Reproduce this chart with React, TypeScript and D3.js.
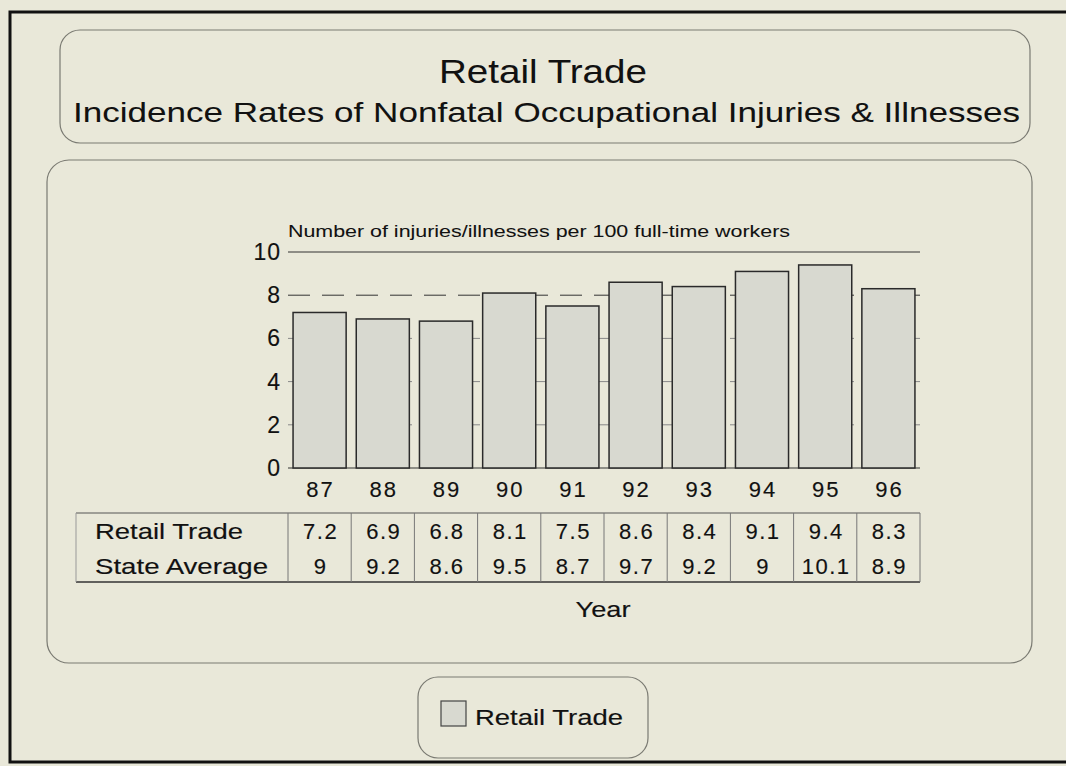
import React from 'react';
import * as d3 from 'd3';

const years = ['87', '88', '89', '90', '91', '92', '93', '94', '95', '96'];
const retailTrade = [7.2, 6.9, 6.8, 8.1, 7.5, 8.6, 8.4, 9.1, 9.4, 8.3];
const stateAverage = ['9', '9.2', '8.6', '9.5', '8.7', '9.7', '9.2', '9', '10.1', '8.9'];
const retailLabels = ['7.2', '6.9', '6.8', '8.1', '7.5', '8.6', '8.4', '9.1', '9.4', '8.3'];
const yTicks = [0, 2, 4, 6, 8, 10];

const W = 1066;
const H = 766;
const bg = '#e9e8d9';
const boxStroke = '#7a7a72';
const font = 'Liberation Sans, Arial, Helvetica, sans-serif';
const ink = '#111';

export default function App() {
  const x = d3.scaleBand<string>()
    .domain(years)
    .range([288, 920])
    .paddingInner(0.16)
    .paddingOuter(0.08);

  const y = d3.scaleLinear().domain([0, 10]).range([468, 252]);

  const tableTop = 513;
  const tableBottom = 582;
  const step = x.step();
  const cx = (yr: string) => (x(yr) as number) + x.bandwidth() / 2;
  const txt = { fontFamily: font, fill: ink, stroke: ink, strokeWidth: 0.15 };

  return (
    <svg width={W} height={H} style={{ position: 'absolute', left: 0, top: 0, background: bg }}>
      <rect x={0} y={0} width={W} height={H} fill={bg} />
      {/* outer frame */}
      <rect x={10} y={12} width={W + 10} height={750} fill="none" stroke="#111" strokeWidth={3} />

      {/* title box */}
      <rect x={60} y={30} width={970} height={113} rx={20} fill="none" stroke={boxStroke} strokeWidth={1.2} />
      <text x={543} y={83} textAnchor="middle" fontSize={34} {...txt} strokeWidth={0.05}
        textLength={208} lengthAdjust="spacingAndGlyphs">Retail Trade</text>
      <text x={73} y={122} fontSize={28} {...txt} strokeWidth={0.05}
        textLength={947} lengthAdjust="spacingAndGlyphs">
        Incidence Rates of Nonfatal Occupational Injuries &amp; Illnesses
      </text>

      {/* plot box */}
      <rect x={47} y={160} width={985} height={503} rx={22} fill="none" stroke={boxStroke} strokeWidth={1.2} />

      {/* axis title */}
      <text x={288} y={237} fontSize={16} {...txt} strokeWidth={0.05}
        textLength={502} lengthAdjust="spacingAndGlyphs">
        Number of injuries/illnesses per 100 full-time workers
      </text>

      {/* grid lines */}
      {yTicks.filter(t => t > 0).map(t => (
        <line key={t} x1={288} x2={920} y1={y(t)} y2={y(t)}
          stroke={t >= 8 ? '#333' : '#888'} strokeWidth={1}
          strokeDasharray={t === 10 ? undefined : '22 12'} />
      ))}
      <line x1={288} x2={920} y1={y(0)} y2={y(0)} stroke="#333" strokeWidth={1.2} />

      {/* y tick labels */}
      {yTicks.map(t => (
        <text key={t} x={281} y={y(t) + 8} textAnchor="end" fontSize={23} {...txt}
          letterSpacing={1}>{t}</text>
      ))}

      {/* bars */}
      {years.map((yr, i) => (
        <rect key={yr} x={x(yr)} y={y(retailTrade[i])} width={x.bandwidth()}
          height={y(0) - y(retailTrade[i])} fill="#d8d9d0" stroke="#2a2a2a" strokeWidth={1.5} />
      ))}

      {/* x labels */}
      {years.map(yr => (
        <text key={yr} x={cx(yr) + 1} y={497} textAnchor="middle"
          fontSize={22} {...txt} letterSpacing={2}>{yr}</text>
      ))}

      {/* data table */}
      <line x1={76} x2={920} y1={tableTop} y2={tableTop} stroke="#555" strokeWidth={1} />
      <line x1={76} x2={920} y1={tableBottom} y2={tableBottom} stroke="#333" strokeWidth={1.4} />
      <line x1={76} x2={76} y1={tableTop} y2={tableBottom} stroke="#999" strokeWidth={1} />
      {d3.range(years.length + 1).map(i => (
        <line key={i} x1={288 + i * step} x2={288 + i * step} y1={tableTop} y2={tableBottom}
          stroke="#777" strokeWidth={1} />
      ))}
      <text x={95} y={539} fontSize={22} {...txt} textLength={148} lengthAdjust="spacingAndGlyphs">Retail Trade</text>
      <text x={95} y={574} fontSize={22} {...txt} textLength={173} lengthAdjust="spacingAndGlyphs">State Average</text>
      {years.map((yr, i) => (
        <g key={yr}>
          <text x={cx(yr) + 1} y={539} textAnchor="middle"
            fontSize={22} {...txt} letterSpacing={1.5}>{retailLabels[i]}</text>
          <text x={cx(yr) + 1} y={574} textAnchor="middle"
            fontSize={22} {...txt} letterSpacing={1.5}>{stateAverage[i]}</text>
        </g>
      ))}

      <text x={603} y={617} textAnchor="middle" fontSize={22} {...txt}
        textLength={55} lengthAdjust="spacingAndGlyphs">Year</text>

      {/* legend */}
      <rect x={418} y={677} width={230} height={81} rx={20} fill="none" stroke={boxStroke} strokeWidth={1.2} />
      <rect x={441} y={701} width={25} height={25} fill="#d8d9d0" stroke="#444" strokeWidth={1.2} />
      <text x={475} y={725} fontSize={22} {...txt} textLength={148} lengthAdjust="spacingAndGlyphs">Retail Trade</text>
    </svg>
  );
}
